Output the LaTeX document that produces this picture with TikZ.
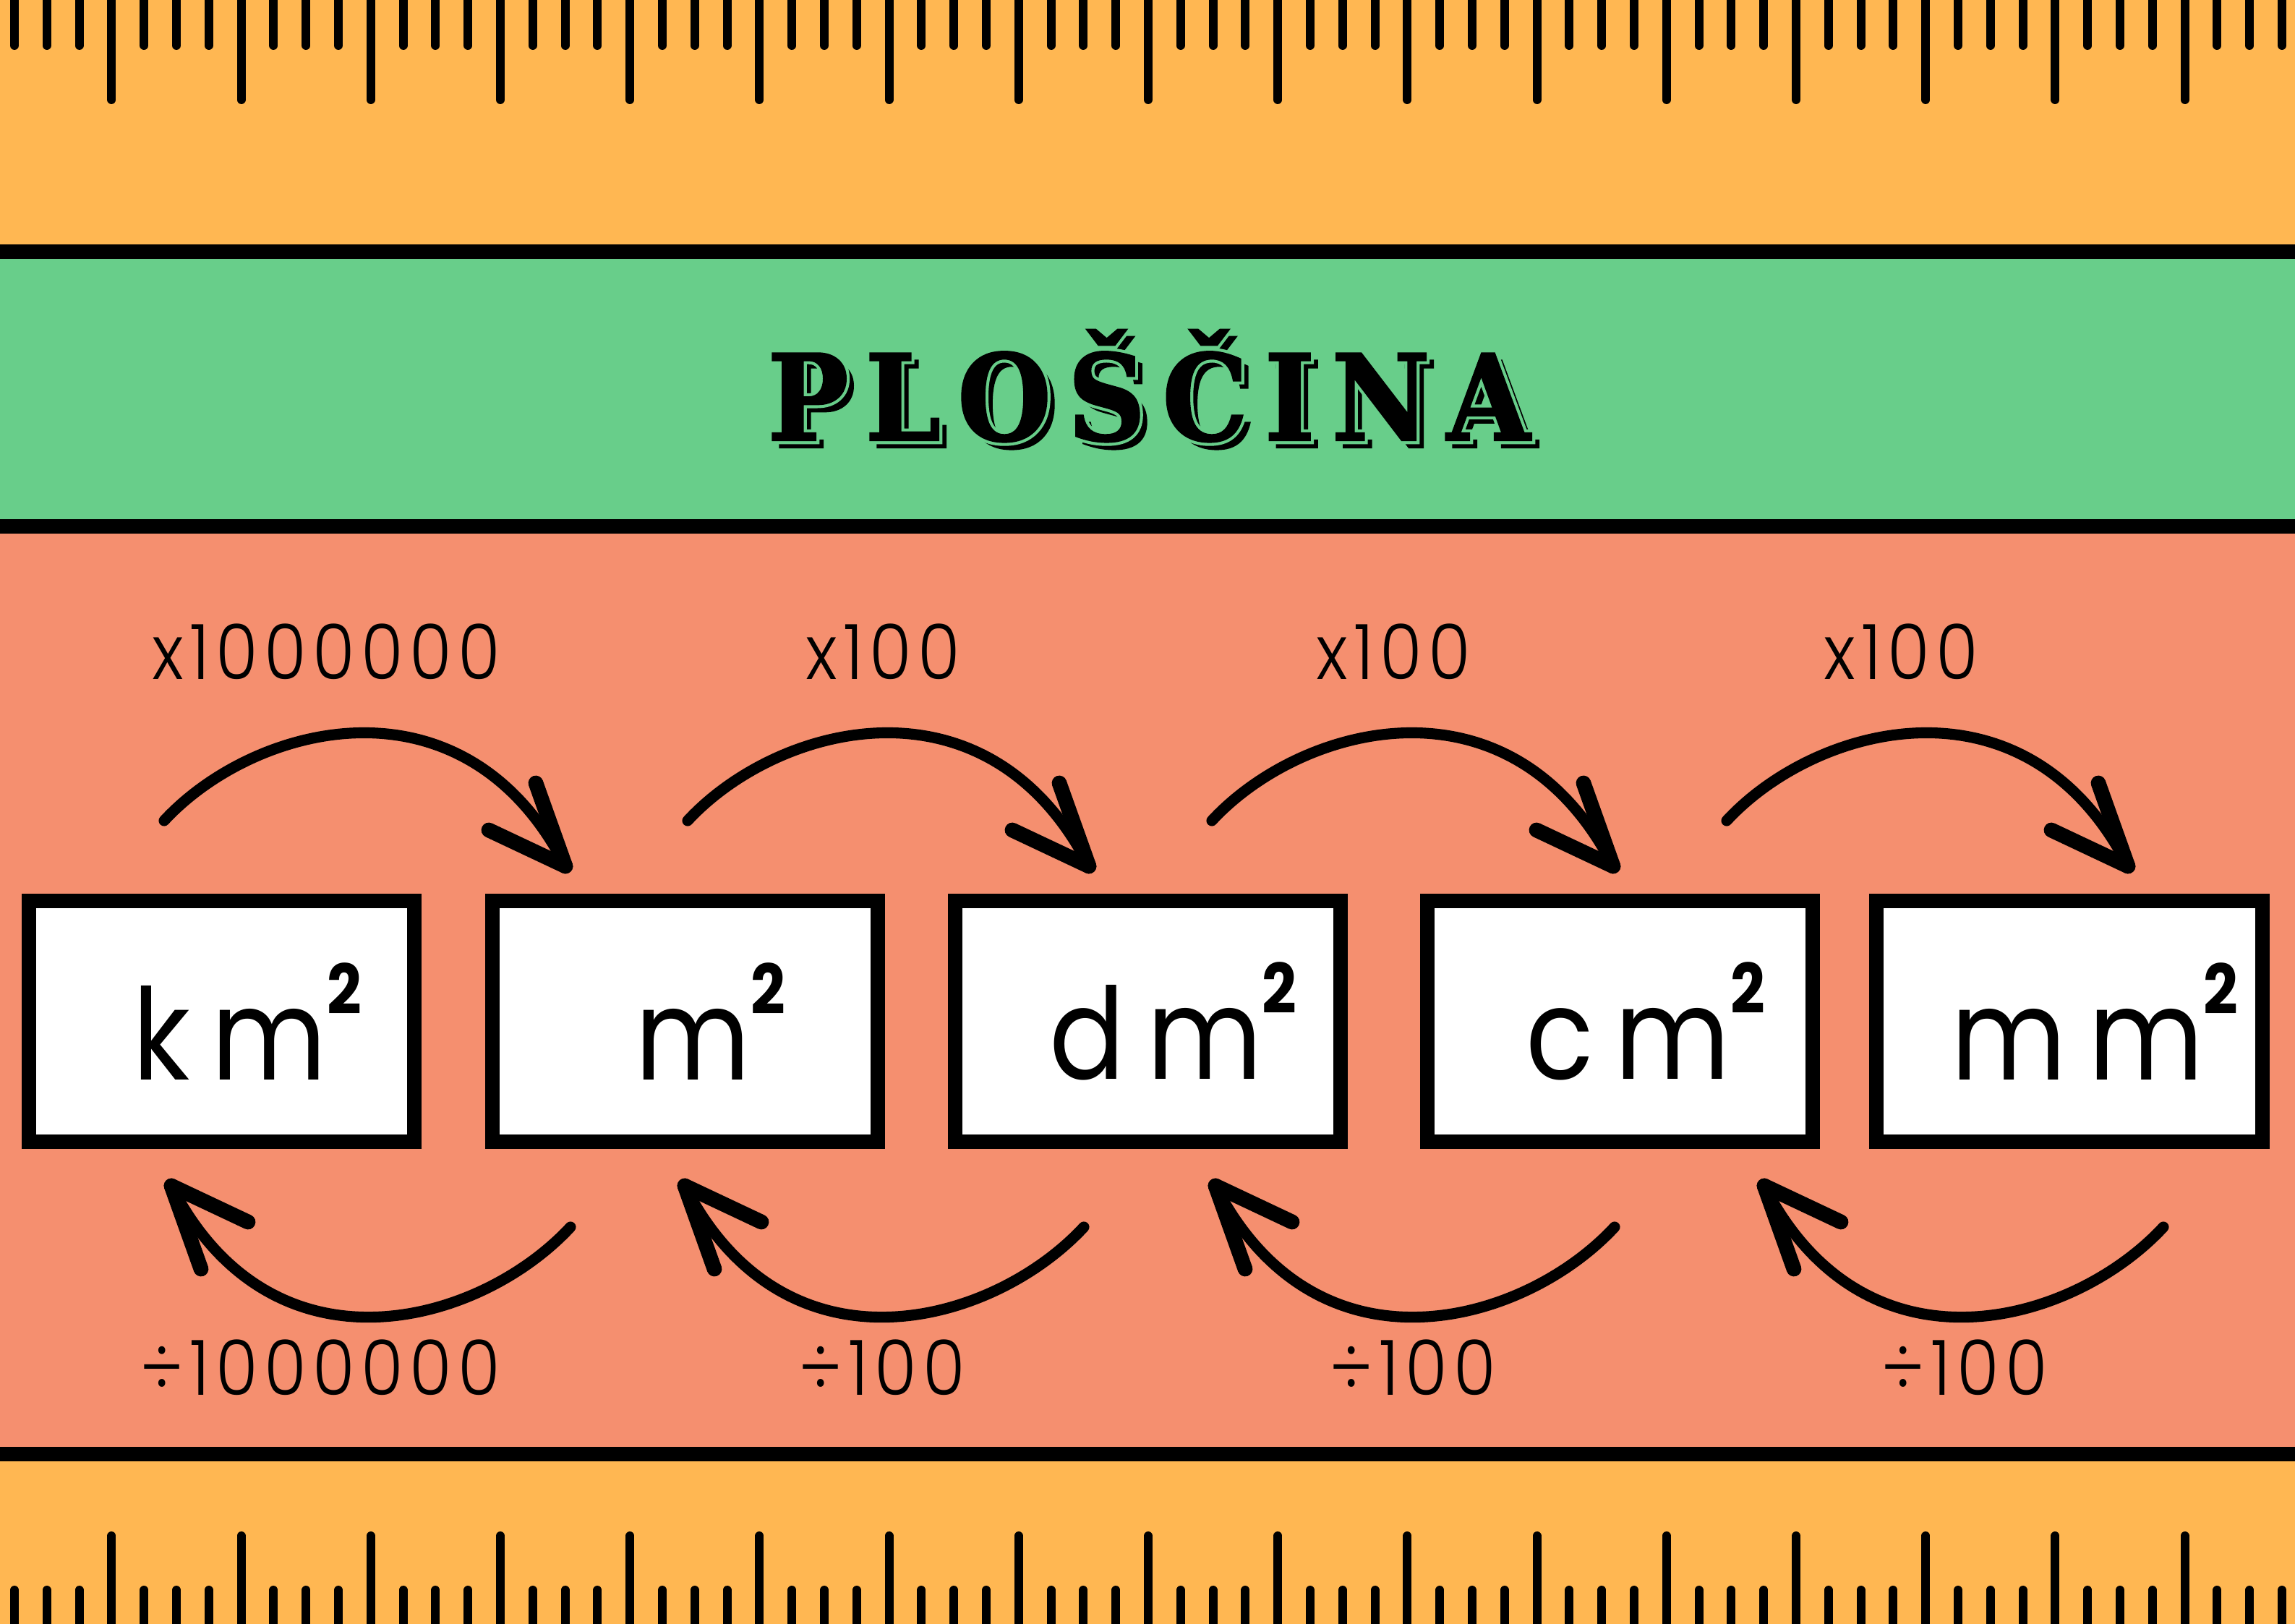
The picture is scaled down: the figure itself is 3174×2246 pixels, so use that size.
\documentclass[tikz,border=0pt]{standalone}
\usepackage{fontspec}
\setmainfont{Poppins}
\newfontfamily\unitfont{Poppins}[FakeStretch=0.88, LetterSpace=17]
\newfontfamily\labelfont{Poppins Light}[FakeStretch=0.9, LetterSpace=8]
\newfontfamily\titlefont{DejaVu Serif Bold}[FakeStretch=0.9, LetterSpace=14, FakeBold=1.5]
\newfontfamily\titlehalofont{DejaVu Serif Bold}[FakeStretch=0.9, LetterSpace=14, FakeBold=6.5]

\definecolor{rulerorange}{HTML}{FFB752}
\definecolor{bandgreen}{HTML}{68CE8A}
\definecolor{bandsalmon}{HTML}{F58F6F}

% raised square sign for the units
\newcommand{\sqtwo}{\raisebox{26pt}{\bfseries\fontsize{27}{30}\selectfont 2}}

\begin{document}
\begin{tikzpicture}[
    x=0.01cm, y=-0.01cm,
    box_style/.style={draw=black, line width=5.7pt, fill=white, minimum width=5.33cm, minimum height=3.33cm, inner sep=0pt, font=\unitfont\fontsize{50}{54}\selectfont, execute at begin node=\hspace*{0.7cm}},
    label_style/.style={anchor=base, inner sep=0pt, font=\labelfont\fontsize{30}{34}\selectfont},
    title_style/.style={anchor=base, inner sep=0pt, font=\titlefont\fontsize{47}{50}\selectfont},
    tick_style/.style={line width=3.4pt, line cap=round},
    curve_style/.style={line width=4.3pt, line cap=round},
    barb_style/.style={line width=5.9pt, line cap=round}
]
    \useasboundingbox (0,0) rectangle (3174,2246);
    \clip (0,0) rectangle (3174,2246);

    % --- Bands ---
    \fill[rulerorange] (0,0) rectangle (3174,338);
    \fill[black] (0,338) rectangle (3174,358);
    \fill[bandgreen] (0,358) rectangle (3174,718);
    \fill[black] (0,718) rectangle (3174,738);
    \fill[bandsalmon] (0,738) rectangle (3174,2001);
    \fill[black] (0,2001) rectangle (3174,2021);
    \fill[rulerorange] (0,2021) rectangle (3174,2246);

    % --- Ruler ticks, every 4th one long ---
    \foreach \i in {0,...,70} {
        \draw[tick_style] ({20+44.8*\i},-10) -- ({20+44.8*\i},63);
        \draw[tick_style] ({20+44.8*\i},2199) -- ({20+44.8*\i},2260);
    }
    \foreach \i in {3,7,...,67} {
        \draw[tick_style] ({20+44.8*\i},-10) -- ({20+44.8*\i},138);
        \draw[tick_style] ({20+44.8*\i},2124) -- ({20+44.8*\i},2260);
    }

    % --- Title with shadow ---
    \node[title_style, text=black] (title_shadow) at (1599,619) {PLOŠČINA};
    \node[title_style, text=bandgreen, font=\titlehalofont\fontsize{47}{50}\selectfont] (title_halo) at (1589,609) {PLOŠČINA};
    \node[title_style, text=black] (title) at (1589,609) {PLOŠČINA};

    % --- Unit boxes ---
    \node[box_style] (km) at (306.5,1412.5) {km\sqtwo};
    \node[box_style] (m) at (947.5,1412.5) {m\sqtwo};
    \node[box_style] (dm) at (1587.5,1412.5) {dm\sqtwo};
    \node[box_style] (cm) at (2240.5,1412.5) {cm\sqtwo};
    \node[box_style] (mm) at (2862,1412.5) {mm\sqtwo};

    % --- Arrow end points ---
    \foreach \n/\sx in {1/227, 2/951, 3/1676, 4/2388} {
        \coordinate (top_s\n) at (\sx,1135);
        \coordinate (top_e\n) at ({\sx+555},1198);
    }
    \foreach \n/\sx in {1/789, 2/1499, 3/2233, 4/2992} {
        \coordinate (bot_s\n) at (\sx,1697);
        \coordinate (bot_e\n) at ({\sx-552},1640);
    }

    % --- Bent arrows ---
    \foreach \n in {1,...,4} {
        % multiply (top)
        \draw[curve_style] (top_s\n) .. controls +(125,-135) and +(-140,-273) .. (top_e\n);
        \draw[barb_style] (top_e\n) -- +(-41,-115);
        \draw[barb_style] (top_e\n) -- +(-106,-50);
        % divide (bottom)
        \draw[curve_style] (bot_s\n) .. controls +(-125,135) and +(140,273) .. (bot_e\n);
        \draw[barb_style] (bot_e\n) -- +(41,115);
        \draw[barb_style] (bot_e\n) -- +(106,50);
    }

    % --- Factors ---
    \node[label_style] (mul1) at (451,940) {x1000000};
    \node[label_style] (mul2) at (1221,940) {x100};
    \node[label_style] (mul3) at (1927,940) {x100};
    \node[label_style] (mul4) at (2629,940) {x100};

    \node[label_style] (div1) at (443,1929) {÷1000000};
    \node[label_style] (div2) at (1220,1929) {÷100};
    \node[label_style] (div3) at (1954,1929) {÷100};
    \node[label_style] (div4) at (2717,1929) {÷100};

\end{tikzpicture}
\end{document}
